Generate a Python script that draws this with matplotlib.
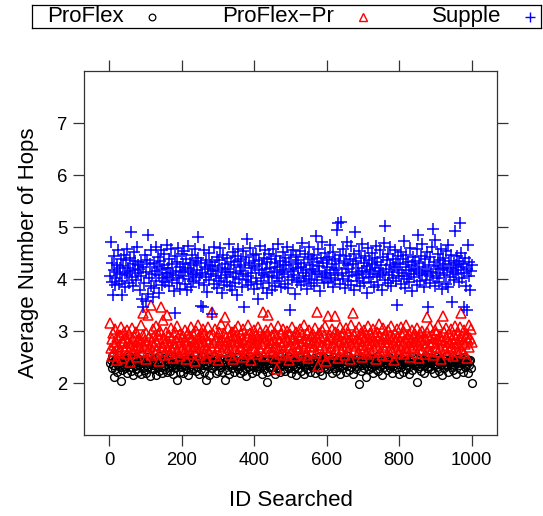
import matplotlib
matplotlib.use('Agg')
import matplotlib.pyplot as plt
import numpy as np

plt.rcParams['font.family'] = ['Liberation Sans', 'DejaVu Sans']

# IDs searched (every second id, 2..1000)
ids = np.arange(2, 1001, 2)

# average number of hops
supple = [
    4.05, 4.72, 4.31, 3.95, 3.69, 4.18, 4.44, 3.88, 4.02, 4.27, 4.13, 4.56, 3.91, 4.21, 4.09, 4.38, 3.97, 3.69, 4.25, 4.47,
    4.12, 3.84, 4.36, 4.58, 4.07, 4.22, 3.93, 4.41, 4.15, 4.90, 4.03, 4.29, 3.86, 4.52, 4.18, 4.34, 3.99, 4.61, 4.11, 4.26,
    4.19, 3.78, 4.33, 4.05, 3.62, 3.46, 4.24, 3.92, 4.47, 3.58, 4.14, 4.37, 4.84, 3.71, 4.02, 4.28, 3.87, 4.55, 4.09, 3.65,
    4.31, 3.83, 4.16, 4.62, 3.97, 4.23, 4.42, 3.74, 4.08, 4.35, 4.56, 3.89, 4.19, 4.01, 4.48, 4.27, 3.94, 4.12, 4.66, 4.04,
    4.21, 4.39, 3.86, 4.11, 4.57, 3.98, 4.28, 4.07, 3.76, 3.34, 4.45, 4.15, 3.92, 4.33, 4.60, 4.02, 4.24, 3.81, 4.13, 4.49,
    4.06, 4.29, 4.53, 3.90, 4.17, 4.38, 3.79, 4.22, 4.64, 4.00, 4.31, 3.85, 4.14, 4.46, 4.09, 3.96, 4.26, 4.58, 4.03, 4.35,
    4.18, 4.41, 4.80, 3.93, 4.07, 4.30, 3.48, 4.12, 3.46, 4.55, 3.88, 4.24, 4.04, 4.37, 3.75, 4.19, 4.50, 3.99, 4.27, 4.10,
    4.33, 3.33, 4.15, 4.62, 3.91, 4.25, 4.06, 3.82, 4.43, 4.17, 3.97, 4.36, 4.59, 4.01, 3.73, 4.22, 4.47, 3.89, 4.13, 4.28,
    4.08, 4.40, 3.95, 4.20, 4.67, 3.86, 4.14, 4.32, 3.78, 4.51, 4.03, 4.26, 3.92, 4.44, 4.11, 3.69, 4.35, 4.57, 4.00, 4.23,
    4.16, 4.38, 3.84, 4.09, 4.53, 3.46, 4.27, 3.98, 4.42, 4.77, 4.05, 3.88, 4.31, 4.60, 4.12, 3.94, 4.21, 4.46, 3.80, 4.34,
    4.25, 4.02, 4.49, 3.90, 3.61, 4.18, 4.36, 4.63, 3.96, 4.11, 4.29, 3.83, 4.41, 4.07, 4.55, 4.19, 3.74, 4.32, 4.04, 4.48,
    3.93, 4.22, 4.39, 4.06, 3.79, 4.58, 4.14, 4.30, 3.87, 4.45, 4.01, 4.24, 4.68, 3.97, 4.17, 4.35, 3.85, 4.10, 4.52, 4.27,
    4.13, 4.40, 3.91, 4.26, 4.61, 4.04, 3.82, 4.33, 3.40, 4.19, 4.47, 3.99, 4.15, 4.56, 4.08, 3.72, 4.29, 4.42, 3.95, 4.21,
    4.37, 4.02, 4.54, 3.89, 4.23, 4.70, 4.11, 3.96, 4.31, 4.48, 4.05, 4.18, 3.81, 4.43, 4.62, 4.00, 4.27, 3.93, 4.39, 4.14,
    4.20, 4.46, 3.87, 4.09, 4.82, 4.33, 3.98, 4.57, 4.15, 4.25, 3.76, 4.41, 4.72, 4.03, 4.30, 3.92, 4.12, 4.50, 4.07, 4.36,
    4.24, 3.94, 4.43, 4.11, 4.66, 4.02, 4.29, 3.85, 4.52, 4.17, 4.38, 3.99, 4.21, 4.95, 4.08, 5.07, 4.34, 3.90, 4.47, 5.10,
    4.12, 4.58, 4.00, 4.31, 3.83, 4.44, 4.19, 4.71, 3.96, 4.26, 4.05, 4.39, 3.88, 4.63, 4.14, 4.28, 3.78, 4.49, 4.90, 4.07,
    4.35, 3.97, 4.22, 4.54, 4.09, 3.86, 4.41, 4.16, 4.67, 4.01, 4.30, 3.92, 4.45, 4.13, 3.74, 4.25, 4.59, 4.04, 4.37, 4.18,
    3.95, 4.28, 4.50, 4.10, 3.84, 4.40, 4.21, 4.64, 4.03, 4.32, 3.89, 4.15, 4.56, 4.07, 4.26, 3.79, 4.43, 4.12, 4.69, 3.98,
    5.02, 4.19, 4.36, 3.93, 4.48, 4.08, 4.27, 4.61, 3.87, 4.14, 4.39, 4.02, 4.23, 4.55, 3.96, 4.31, 3.50, 4.17, 4.44, 4.05,
    4.29, 4.52, 3.90, 4.11, 4.38, 4.73, 4.06, 3.83, 4.24, 4.47, 4.00, 4.33, 3.94, 4.18, 4.60, 4.09, 4.26, 3.77, 4.42, 4.15,
    4.03, 4.35, 4.20, 3.88, 4.57, 4.84, 4.12, 4.30, 3.97, 4.45, 4.07, 4.68, 4.24, 3.85, 4.38, 4.16, 3.99, 4.51, 4.10, 3.46,
    4.27, 4.43, 3.92, 4.14, 4.62, 4.05, 4.97, 4.32, 3.86, 4.75, 4.19, 4.02, 4.48, 4.25, 3.95, 4.36, 4.11, 4.58, 3.80, 4.22,
    4.40, 4.08, 4.29, 3.91, 4.53, 4.17, 4.66, 3.84, 4.35, 4.04, 4.21, 4.47, 3.56, 4.13, 4.31, 3.98, 4.92, 4.26, 4.09, 4.44,
    4.18, 4.35, 3.94, 5.07, 4.23, 4.50, 4.01, 4.29, 3.46, 4.12, 4.41, 3.87, 4.20, 3.40, 4.65, 4.06, 4.33, 3.79, 4.15, 4.27,
]

proflex_pr = [
    3.15, 2.68, 2.85, 2.52, 2.97, 2.74, 2.61, 3.04, 2.79, 2.45, 2.88, 2.70, 2.58, 2.93, 2.66, 3.08, 2.81, 2.49, 2.76, 2.99,
    2.63, 2.87, 2.72, 3.01, 2.55, 2.80, 2.94, 2.41, 2.77, 2.69, 3.06, 2.84, 2.57, 2.91, 2.73, 2.64, 2.98, 2.50, 2.82, 2.71,
    2.86, 2.67, 3.12, 2.78, 2.59, 3.34, 2.92, 2.71, 2.83, 2.47, 2.96, 2.75, 2.62, 3.30, 2.89, 2.70, 2.54, 3.50, 2.81, 3.03,
    2.74, 2.90, 2.58, 3.09, 2.79, 2.66, 2.95, 2.43, 2.84, 3.00, 3.46, 2.72, 2.61, 3.21, 2.87, 2.53, 2.77, 2.98, 2.68, 3.30,
    2.80, 2.56, 2.93, 2.71, 3.05, 2.64, 2.86, 2.48, 2.76, 2.99, 2.69, 2.83, 3.10, 2.60, 2.89, 2.73, 2.51, 2.95, 2.78, 2.65,
    2.91, 2.70, 2.57, 3.02, 2.82, 2.46, 2.75, 2.97, 2.63, 2.88, 2.72, 3.07, 2.55, 2.85, 2.67, 2.94, 2.79, 2.42, 3.00, 2.74,
    2.62, 2.87, 3.11, 2.76, 2.53, 2.90, 2.69, 2.81, 3.04, 2.58, 2.95, 2.73, 2.49, 2.84, 2.66, 3.08, 2.78, 2.60, 2.92, 2.71,
    3.36, 2.68, 2.94, 2.77, 2.52, 3.03, 2.85, 2.64, 2.89, 2.44, 2.98, 2.72, 2.80, 3.13, 2.59, 2.83, 2.70, 2.96, 3.27, 2.75,
    2.88, 2.61, 2.79, 3.06, 2.67, 2.92, 2.54, 2.82, 2.99, 2.73, 2.47, 2.86, 3.01, 2.63, 2.90, 2.76, 2.57, 3.09, 2.80, 2.69,
    2.95, 2.71, 2.84, 2.50, 3.04, 2.78, 2.65, 2.91, 2.56, 2.87, 3.12, 2.74, 2.60, 2.97, 2.82, 2.45, 2.89, 2.68, 3.02, 2.77,
    2.66, 2.93, 2.79, 2.55, 3.07, 2.84, 2.70, 2.98, 2.61, 2.88, 2.75, 3.36, 2.52, 2.90, 2.81, 3.01, 2.67, 2.94, 3.30, 2.72,
    2.85, 2.59, 3.05, 2.76, 2.92, 2.64, 2.83, 2.48, 2.97, 2.71, 2.27, 2.87, 3.10, 2.68, 2.80, 2.56, 2.95, 2.74, 2.62, 3.03,
    2.78, 2.91, 2.53, 2.86, 3.00, 2.69, 2.82, 2.44, 2.95, 2.73, 2.60, 3.08, 2.84, 2.66, 2.89, 2.51, 2.77, 2.99, 2.70, 2.93,
    2.63, 2.87, 3.04, 2.75, 2.58, 2.92, 2.80, 2.67, 3.11, 2.54, 2.85, 2.72, 2.96, 2.49, 2.81, 3.02, 2.69, 2.90, 2.76, 2.61,
    2.94, 2.71, 2.83, 3.06, 2.57, 2.88, 3.36, 2.33, 2.79, 2.97, 2.65, 2.86, 3.01, 2.74, 2.52, 2.91, 2.68, 3.09, 2.42, 2.82,
    2.77, 3.29, 2.60, 2.93, 2.84, 2.70, 3.03, 2.55, 2.89, 2.76, 2.98, 3.29, 2.66, 2.85, 2.48, 2.95, 2.73, 3.07, 2.81, 2.62,
    2.90, 2.68, 2.99, 2.79, 2.53, 2.87, 3.05, 2.72, 2.61, 2.94, 2.83, 2.46, 3.12, 2.75, 2.88, 3.34, 2.64, 2.92, 2.78, 3.00,
    2.71, 2.85, 2.58, 3.08, 2.80, 2.67, 2.96, 2.50, 2.89, 2.74, 3.02, 2.63, 2.86, 2.92, 2.55, 2.77, 3.10, 2.69, 2.83, 2.97,
    2.60, 2.88, 2.75, 3.03, 2.66, 2.93, 2.81, 2.47, 2.98, 2.72, 2.85, 3.13, 2.59, 2.90, 2.78, 2.54, 3.06, 2.70, 2.87, 2.64,
    2.95, 2.73, 2.84, 2.52, 3.01, 2.79, 2.68, 2.91, 3.09, 2.62, 2.86, 2.76, 2.45, 2.97, 2.82, 2.69, 3.04, 2.57, 2.89, 2.74,
    2.81, 3.07, 2.65, 2.92, 2.77, 2.56, 2.99, 2.84, 2.70, 3.11, 2.61, 2.88, 2.74, 2.95, 2.50, 2.83, 3.02, 2.67, 2.90, 2.78,
    2.69, 2.94, 2.80, 2.58, 3.05, 2.73, 2.87, 2.48, 2.96, 2.82, 2.63, 3.00, 2.76, 2.91, 2.55, 2.85, 2.71, 3.27, 2.98, 2.66,
    2.89, 2.75, 3.08, 2.62, 2.93, 2.79, 2.53, 2.86, 3.02, 2.70, 2.97, 2.84, 2.59, 3.12, 2.77, 2.68, 2.91, 2.46, 2.83, 3.29,
    2.74, 2.99, 2.64, 2.88, 3.06, 2.72, 2.81, 2.55, 2.94, 2.78, 2.67, 3.03, 2.85, 2.51, 2.92, 2.76, 3.10, 2.69, 2.87, 2.60,
    2.96, 2.73, 2.84, 3.07, 3.34, 2.66, 2.90, 2.79, 2.57, 3.01, 2.75, 2.88, 2.49, 2.95, 2.82, 3.11, 2.70, 2.86, 3.04, 2.78,
]

proflex = [
    2.38, 2.45, 2.29, 2.51, 2.34, 2.12, 2.42, 2.26, 2.47, 2.36, 2.21, 2.40, 2.53, 2.31, 2.44, 2.03, 2.37, 2.25, 2.49, 2.33,
    2.41, 2.28, 2.46, 2.35, 2.19, 2.43, 2.52, 2.30, 2.39, 2.24, 2.48, 2.36, 2.15, 2.44, 2.32, 2.50, 2.27, 2.40, 2.37, 2.22,
    2.46, 2.33, 2.18, 2.42, 2.54, 2.29, 2.38, 2.25, 2.47, 2.35, 2.20, 2.43, 2.31, 2.50, 2.36, 2.14, 2.41, 2.28, 2.45, 2.34,
    2.27, 2.44, 2.39, 2.16, 2.48, 2.32, 2.41, 2.23, 2.52, 2.37, 2.30, 2.45, 2.19, 2.40, 2.34, 2.49, 2.26, 2.43, 2.36, 2.21,
    2.42, 2.30, 2.47, 2.24, 2.38, 2.51, 2.33, 2.17, 2.44, 2.36, 2.28, 2.46, 2.40, 2.06, 2.35, 2.49, 2.22, 2.41, 2.31, 2.45,
    2.37, 2.20, 2.43, 2.34, 2.50, 2.27, 2.39, 2.46, 2.15, 2.41, 2.32, 2.48, 2.25, 2.36, 2.44, 2.29, 2.53, 2.38, 2.23, 2.42,
    2.31, 2.47, 2.36, 2.18, 2.44, 2.39, 2.26, 2.51, 2.34, 2.42, 2.21, 2.45, 2.37, 2.06, 2.48, 2.33, 2.16, 2.40, 2.46, 2.35,
    2.43, 2.28, 2.40, 2.52, 2.32, 2.45, 2.19, 2.38, 2.47, 2.24, 2.41, 2.35, 2.49, 2.30, 2.44, 2.22, 2.39, 2.46, 2.06, 2.36,
    2.41, 2.25, 2.48, 2.34, 2.17, 2.43, 2.37, 2.51, 2.29, 2.40, 2.46, 2.21, 2.38, 2.44, 2.32, 2.50, 2.27, 2.42, 2.35, 2.19,
    2.45, 2.33, 2.40, 2.23, 2.49, 2.36, 2.28, 2.47, 2.14, 2.42, 2.38, 2.31, 2.52, 2.26, 2.44, 2.35, 2.20, 2.46, 2.39, 2.30,
    2.37, 2.48, 2.24, 2.42, 2.33, 2.50, 2.29, 2.39, 2.45, 2.18, 2.41, 2.35, 2.47, 2.27, 2.43, 2.36, 2.22, 2.02, 2.44, 2.31,
    2.46, 2.30, 2.39, 2.53, 2.25, 2.42, 2.36, 2.17, 2.48, 2.34, 2.41, 2.28, 2.45, 2.38, 2.21, 2.50, 2.32, 2.43, 2.37, 2.26,
    2.40, 2.47, 2.23, 2.36, 2.44, 2.31, 2.51, 2.28, 2.39, 2.46, 2.19, 2.42, 2.35, 2.48, 2.26, 2.41, 2.33, 2.16, 2.45, 2.38,
    2.29, 2.43, 2.37, 2.50, 2.24, 2.40, 2.46, 2.32, 2.18, 2.44, 2.36, 2.52, 2.27, 2.41, 2.34, 2.47, 2.21, 2.39, 2.45, 2.30,
    2.42, 2.35, 2.48, 2.20, 2.40, 2.33, 2.45, 2.27, 2.51, 2.38, 2.24, 2.43, 2.36, 2.15, 2.46, 2.31, 2.41, 2.49, 2.28, 2.37,
    2.44, 2.26, 2.39, 2.47, 2.32, 2.42, 2.19, 2.36, 2.50, 2.29, 2.45, 2.38, 2.23, 2.41, 2.34, 2.48, 2.30, 2.43, 2.17, 2.40,
    2.35, 2.49, 2.28, 2.42, 2.37, 2.21, 2.46, 2.33, 2.40, 2.52, 2.25, 2.44, 2.38, 2.30, 2.47, 2.18, 2.41, 2.36, 2.43, 2.27,
    2.46, 2.32, 2.40, 1.98, 2.37, 2.44, 2.24, 2.49, 2.35, 2.41, 2.29, 2.45, 2.38, 2.12, 2.43, 2.33, 2.50, 2.26, 2.39, 2.47,
    2.31, 2.42, 2.36, 2.19, 2.48, 2.34, 2.44, 2.27, 2.40, 2.51, 2.23, 2.38, 2.46, 2.32, 2.43, 2.16, 2.37, 2.45, 2.30, 2.41,
    2.39, 2.47, 2.25, 2.43, 2.35, 2.50, 2.28, 2.41, 2.37, 2.20, 2.46, 2.33, 2.44, 2.38, 2.26, 2.49, 2.31, 2.42, 2.36, 2.18,
    2.44, 2.30, 2.48, 2.36, 2.22, 2.41, 2.38, 2.52, 2.27, 2.45, 2.34, 2.40, 2.17, 2.47, 2.32, 2.43, 2.39, 2.25, 2.50, 2.35,
    2.41, 2.36, 2.46, 2.02, 2.39, 2.29, 2.44, 2.33, 2.49, 2.24, 2.42, 2.37, 2.47, 2.20, 2.40, 2.35, 2.51, 2.28, 2.43, 2.38,
    2.32, 2.45, 2.39, 2.26, 2.48, 2.36, 2.42, 2.19, 2.44, 2.34, 2.50, 2.30, 2.41, 2.46, 2.23, 2.38, 2.43, 2.35, 2.16, 2.47,
    2.40, 2.28, 2.45, 2.37, 2.51, 2.33, 2.21, 2.43, 2.39, 2.47, 2.30, 2.42, 2.36, 2.25, 2.49, 2.34, 2.44, 2.18, 2.41, 2.38,
    2.46, 2.35, 2.41, 2.27, 2.48, 2.38, 2.44, 2.22, 2.40, 2.50, 2.31, 2.43, 2.36, 2.47, 2.19, 2.42, 2.34, 2.45, 2.29, 2.00,
]

xticks = [0, 200, 400, 600, 800, 1000]
yticks = [2, 3, 4, 5, 6, 7]

fig = plt.figure(figsize=(5.43, 5.16), dpi=100)
ax = fig.add_axes([84/543, 81/516, 413/543, 364/516])

ax.plot(ids, proflex, 'o', mfc='none', mec='black', ms=5.6, mew=1.0)
ax.plot(ids, proflex_pr, '^', mfc='none', mec='red', ms=7.0, mew=1.1)
ax.plot(ids, supple, '+', color='blue', ms=8.0, mew=1.1)

ax.set_xlim(-70, 1070)
ax.set_ylim(1, 8)
ax.set_xticks(xticks)
ax.set_yticks(yticks)
ax.tick_params(direction='out', length=8, width=0.9, top=True, right=True,
               labeltop=False, labelright=False, labelsize=13.3, pad=4, color='#333333')
for s in ax.spines.values():
    s.set_color('#333333')
    s.set_linewidth(0.9)
ax.set_xlabel('ID Searched', fontsize=16, labelpad=15)
ax.set_ylabel('Average Number of Hops', fontsize=16, labelpad=13)

# legend strip on top
lg = fig.add_axes([32/543, 1 - 28/516, 509/543, 23/516])
lg.set_xlim(32, 541)
lg.set_ylim(0, 1)
lg.set_xticks([])
lg.set_yticks([])
for s in lg.spines.values():
    s.set_linewidth(0.9)
    s.set_color('black')
names = ['ProFlex', 'ProFlex\u2212Pr', 'Supple']
text_x = [47, 222, 432]
mark_x = [152, 363, 530]
lg.text(text_x[0], 0.5, names[0], fontsize=16, va='center', ha='left')
lg.text(text_x[1], 0.5, names[1], fontsize=16, va='center', ha='left')
lg.text(text_x[2], 0.5, names[2], fontsize=16, va='center', ha='left')
lg.plot([mark_x[0]], [0.5], 'o', mfc='none', mec='black', ms=4.8, mew=0.9)
lg.plot([mark_x[1]], [0.5], '^', mfc='none', mec='red', ms=5.8, mew=1.0)
lg.plot([mark_x[2]], [0.5], '+', color='blue', ms=7.0, mew=1.0)

plt.savefig('out.png', dpi=100)
